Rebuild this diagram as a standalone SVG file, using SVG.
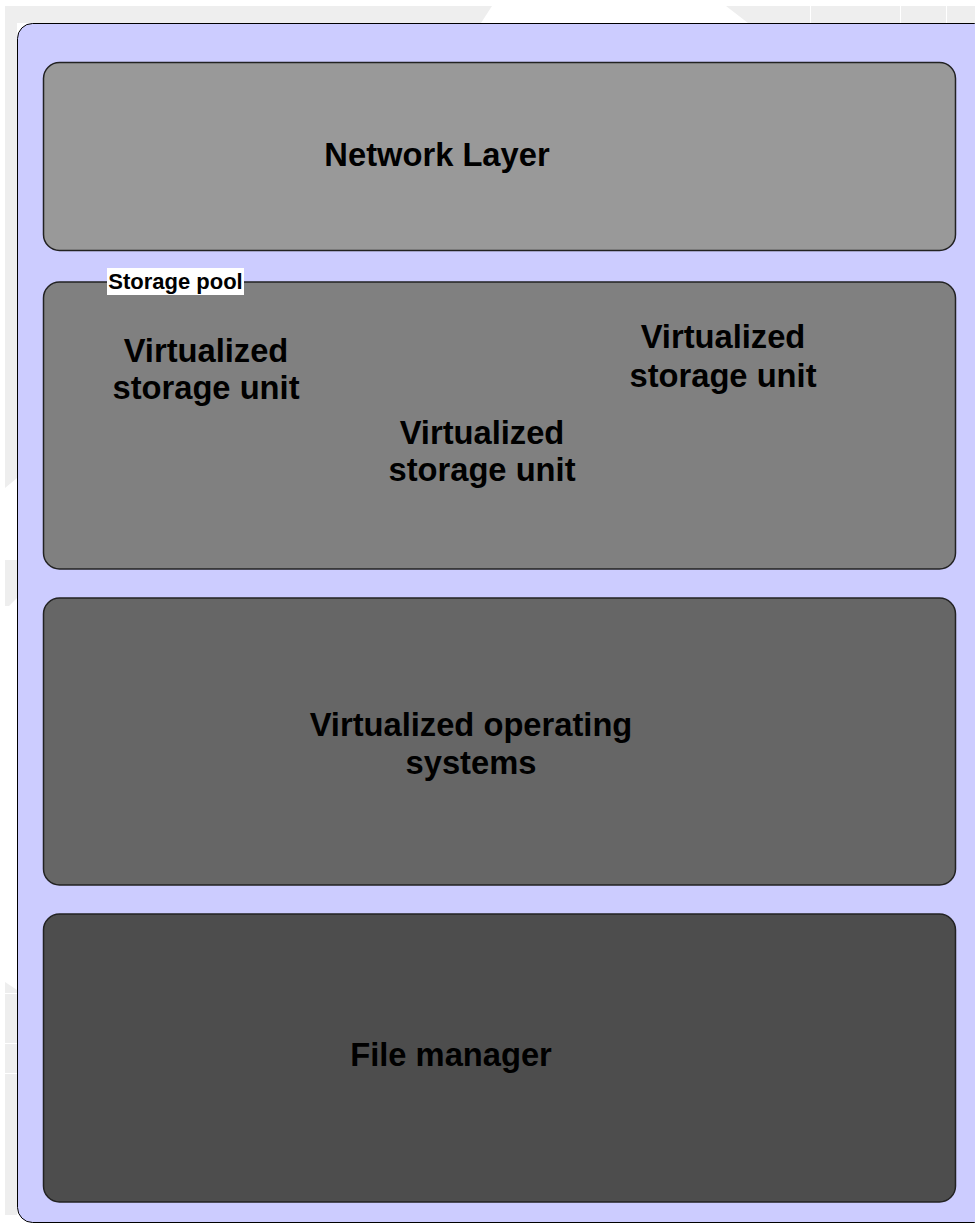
<svg xmlns="http://www.w3.org/2000/svg" width="975" height="1225" viewBox="0 0 975 1225">
  <style>
    .layer { stroke: #222222; stroke-width: 1.5; }
    .big { font-family: "Liberation Sans", Arial, sans-serif; font-weight: bold; font-size: 32.7px; fill: #000000; text-anchor: middle; }
    .small { font-family: "Liberation Sans", Arial, sans-serif; font-weight: bold; font-size: 22px; fill: #000000; text-anchor: middle; }
    .bgshape { fill: #eeeeee; }
  </style>
  <rect x="0" y="0" width="975" height="1225" fill="#ffffff"/>
  <g id="background">
    <polygon class="bgshape" points="5,6 492,6 481,23 5,23"/>
    <polygon class="bgshape" points="726,6 975,6 975,23 748,23"/>
    <rect x="5" y="23" width="12" height="455" class="bgshape"/>
    <polygon class="bgshape" points="5,478 17,478 17,478 5,488"/>
    <polygon class="bgshape" points="5,560 17,560 17,598 9,606 5,606"/>
    <polygon class="bgshape" points="5,982 17,990 17,1215 5,1215"/>
    <g stroke="#ffffff" stroke-width="1">
      <line x1="810.5" y1="6" x2="810.5" y2="23"/>
      <line x1="900.5" y1="6" x2="900.5" y2="23"/>
      <line x1="946.5" y1="6" x2="946.5" y2="23"/>
      <line x1="5" y1="993.5" x2="17" y2="993.5"/>
      <line x1="5" y1="1043.5" x2="17" y2="1043.5"/>
      <line x1="5" y1="1073.5" x2="17" y2="1073.5"/>
    </g>
  </g>
  <g id="container">
    <rect x="17.5" y="23.5" width="972" height="1199" rx="15" ry="15" fill="#ccccff" stroke="#000000" stroke-width="1"/>
  </g>
  <g id="network-layer">
    <rect class="layer" x="43.5" y="62.5" width="912" height="188" rx="16" ry="16" fill="#999999"/>
    <text class="big" x="437" y="166">Network Layer</text>
  </g>
  <g id="storage-pool">
    <rect class="layer" x="43.5" y="282" width="912" height="287" rx="16" ry="16" fill="#808080"/>
    <rect x="107" y="268" width="137" height="27" fill="#ffffff"/>
    <text class="small" x="175.5" y="289">Storage pool</text>
  </g>
  <g id="storage-unit-1">
    <text class="big" x="206" y="362">Virtualized</text>
    <text class="big" x="206" y="399">storage unit</text>
  </g>
  <g id="storage-unit-2">
    <text class="big" x="482" y="444">Virtualized</text>
    <text class="big" x="482" y="481">storage unit</text>
  </g>
  <g id="storage-unit-3">
    <text class="big" x="723" y="348">Virtualized</text>
    <text class="big" x="723" y="387">storage unit</text>
  </g>
  <g id="virtualized-os">
    <rect class="layer" x="43.5" y="598" width="912" height="287" rx="16" ry="16" fill="#666666"/>
    <text class="big" x="471" y="736">Virtualized operating</text>
    <text class="big" x="471" y="774">systems</text>
  </g>
  <g id="file-manager">
    <rect class="layer" x="43.5" y="914" width="912" height="288" rx="16" ry="16" fill="#4d4d4d"/>
    <text class="big" x="451" y="1066">File manager</text>
  </g>
  <g id="connectors"/>
</svg>
